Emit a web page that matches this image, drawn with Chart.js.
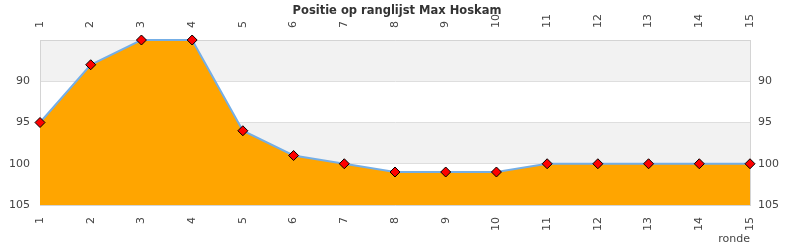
<!DOCTYPE html>
<html>
<head>
<meta charset="utf-8">
<script src="https://cdn.jsdelivr.net/npm/chart.js@4.4.0/dist/chart.umd.min.js"></script>
<style>
  html, body { margin: 0; padding: 0; background: #fff; }
  #wrap { width: 790px; height: 250px; }
</style>
</head>
<body>
<div id="wrap"><canvas id="chart"></canvas></div>
<script>
// rounds (x) and ranking position (y, lower is better)
var rounds = ['1', '2', '3', '4', '5', '6', '7', '8', '9', '10', '11', '12', '13', '14', '15'];
var positions = [95, 88, 85, 85, 96, 99, 100, 101, 101, 101, 100, 100, 100, 100, 100];
var yTicks = [90, 95, 100, 105];
var chartTitle = 'Positie op ranglijst Max Hoskam';

var tickFont = { family: 'DejaVu Sans', size: 11 };

// alternating grey bands behind the plot
var bandPlugin = {
  id: 'bands',
  beforeDraw: function (chart) {
    var ctx = chart.ctx;
    var area = chart.chartArea;
    var y = chart.scales.y;
    var bands = [[85, 90], [95, 100]];
    ctx.save();
    ctx.fillStyle = '#f2f2f2';
    for (var i = 0; i < bands.length; i++) {
      var y1 = y.getPixelForValue(bands[i][0]);
      var y2 = y.getPixelForValue(bands[i][1]);
      ctx.fillRect(area.left, Math.min(y1, y2), area.right - area.left, Math.abs(y2 - y1));
    }
    ctx.restore();
  }
};

// title sits in the same strip as the top axis labels, so draw it by hand
var titlePlugin = {
  id: 'topTitle',
  afterDraw: function (chart) {
    var ctx = chart.ctx;
    ctx.save();
    ctx.font = 'bold 11.5px "DejaVu Sans"';
    ctx.fillStyle = '#333';
    ctx.textAlign = 'center';
    ctx.textBaseline = 'middle';
    ctx.fillText(chartTitle, chart.width / 2 + 2, 11);
    ctx.restore();
  }
};

function yLabel(value) {
  return yTicks.indexOf(value) >= 0 ? String(value) : '';
}

var chart = new Chart(document.getElementById('chart'), {
  type: 'line',
  data: {
    labels: rounds,
    datasets: [{
      data: positions,
      borderColor: '#74aee6',
      borderWidth: 2,
      backgroundColor: '#ffa500',
      fill: { value: 105 },
      tension: 0,
      pointStyle: 'rectRot',
      pointRadius: 5,
      pointHoverRadius: 5,
      pointBackgroundColor: '#ff0000',
      pointBorderColor: '#000',
      pointBorderWidth: 1,
      clip: false
    }]
  },
  options: {
    responsive: true,
    maintainAspectRatio: false,
    animation: false,
    layout: { padding: 0 },
    plugins: {
      legend: { display: false },
      tooltip: { enabled: false },
      title: { display: false }
    },
    scales: {
      x: {
        type: 'category',
        position: 'bottom',
        offset: false,
        grid: { display: false, drawTicks: false },
        border: { display: true, color: '#d4d4d4' },
        ticks: { color: '#444', font: tickFont, minRotation: 90, maxRotation: 90, autoSkip: false, padding: 12 },
        title: { display: true, text: 'ronde', align: 'end', color: '#444', font: tickFont, padding: { top: 0, bottom: 4 } },
        afterFit: function (s) { s.height = 45; }
      },
      x2: {
        type: 'category',
        position: 'top',
        labels: rounds,
        offset: false,
        grid: { display: false, drawTicks: false },
        border: { display: true, color: '#d4d4d4' },
        ticks: { color: '#444', font: tickFont, minRotation: 90, maxRotation: 90, autoSkip: false, padding: 12, labelOffset: 13 },
        afterFit: function (s) { s.height = 40; }
      },
      y: {
        position: 'left',
        reverse: true,
        min: 85,
        max: 105,
        ticks: { stepSize: 5, color: '#444', font: tickFont, padding: 10, callback: yLabel },
        grid: { color: '#dedede', drawTicks: false },
        border: { display: true, color: '#d4d4d4' },
        afterFit: function (s) { s.width = 40; }
      },
      y2: {
        position: 'right',
        reverse: true,
        min: 85,
        max: 105,
        ticks: { stepSize: 5, color: '#444', font: tickFont, padding: 8, callback: yLabel },
        grid: { display: false, drawTicks: false },
        border: { display: true, color: '#d4d4d4' },
        afterFit: function (s) { s.width = 40; }
      }
    }
  },
  plugins: [bandPlugin, titlePlugin]
});
</script>
</body>
</html>
